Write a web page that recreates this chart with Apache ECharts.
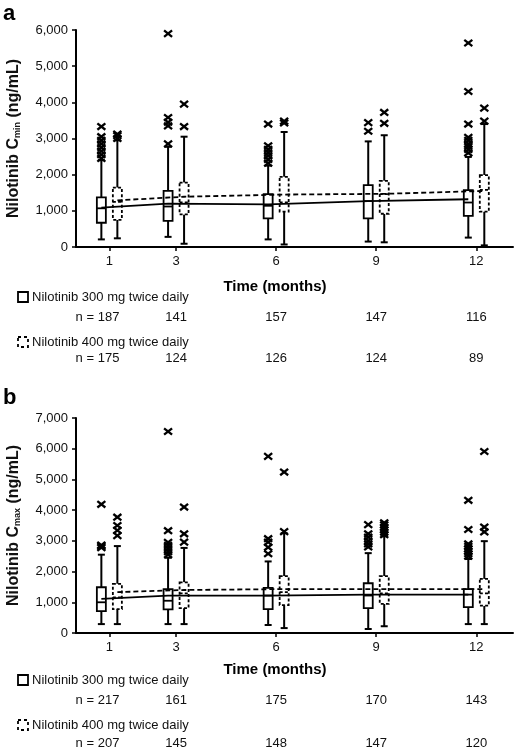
<!DOCTYPE html>
<html><head><meta charset="utf-8">
<script src="https://cdn.jsdelivr.net/npm/echarts@6/dist/echarts.min.js"></script>
<style>html,body{margin:0;padding:0;background:#fff}#c{width:516px;height:750px}</style>
</head><body><div id="c"></div>
<script>
// ---------- data ----------
const months = [1, 3, 6, 9, 12];
const yMaxA = 6000, yMaxB = 7000, yStep = 1000;

// panel a: Cmin  [low whisker, Q1, median, Q3, high whisker]
const a300Box = [[210, 670, 1070, 1370, 2400], [280, 720, 1120, 1550, 2770], [210, 790, 1140, 1460, 2250], [150, 790, 1270, 1710, 2920], [260, 860, 1230, 1570, 2490]];
const a400Box = [[240, 750, 1250, 1640, 2950], [90, 900, 1230, 1780, 3050], [70, 980, 1230, 1940, 3180], [130, 920, 1460, 1830, 3090], [45, 980, 1580, 1990, 3400]];
const a300Out = [[2450, 2550, 2650, 2750, 2850, 2950, 3050, 3330], [2850, 3350, 3450, 3580, 5900], [2320, 2420, 2520, 2610, 2700, 2800, 3400], [3200, 3440], [2600, 2700, 2780, 2850, 2950, 3030, 3400, 4300, 5640]];
const a400Out = [[3000, 3080, 3120], [3330, 3950], [3430, 3480], [3420, 3720], [3480, 3840]];
const a300Mean = [1090, 1200, 1180, 1270, 1320];
const a400Mean = [1290, 1390, 1450, 1470, 1550];
const a300N = [187, 141, 157, 147, 116];
const a400N = [175, 124, 126, 124, 89];

// panel b: Cmax
const b300Box = [[290, 710, 1000, 1490, 2550], [290, 770, 1050, 1430, 2450], [260, 780, 1220, 1470, 2330], [130, 810, 1220, 1620, 2600], [290, 840, 1250, 1430, 2410]];
const b400Box = [[290, 780, 1160, 1600, 2830], [290, 810, 1290, 1650, 2770], [160, 910, 1330, 1850, 3250], [220, 950, 1290, 1850, 3150], [290, 890, 1290, 1760, 2990]];
const b300Out = [[2780, 2820, 2860, 4190], [2550, 2650, 2750, 2850, 2950, 3330, 6560], [2580, 2790, 2960, 3070, 5750], [2800, 2900, 3000, 3120, 3230, 3530], [2500, 2580, 2660, 2740, 2820, 2900, 3370, 4320]];
const b400Out = [[3170, 3340, 3500, 3770], [2960, 3230, 4100], [3300, 5240], [3200, 3280, 3360, 3440, 3520, 3590], [3290, 3450, 5910]];
const b300Mean = [1110, 1220, 1220, 1250, 1250];
const b400Mean = [1330, 1400, 1430, 1430, 1430];
const b300N = [217, 161, 175, 170, 143];
const b400N = [207, 145, 148, 147, 120];

const legend300 = 'Nilotinib 300 mg twice daily';
const legend400 = 'Nilotinib 400 mg twice daily';
const xTitle = 'Time (months)';

// ---------- chart ----------
const FONT = '"Liberation Sans", Arial, Helvetica, sans-serif';
const OFF = 8; // px offset of each group's box from the tick
const OFFM = 0.24; // same offset in months for mean lines
const chart = echarts.init(document.getElementById('c'), null, {renderer: 'canvas'});

function boxRender(offPx, dashed) {
  return function (params, api) {
    const x = api.value(0);
    const pL = api.coord([x, api.value(1)]);
    const p1 = api.coord([x, api.value(2)]);
    const pM = api.coord([x, api.value(3)]);
    const p3 = api.coord([x, api.value(4)]);
    const pH = api.coord([x, api.value(5)]);
    const cx = pL[0] + offPx;
    const hw = 4.5, cw = 3.5;
    const solid = {stroke: '#000', lineWidth: 2, fill: null};
    const bs = {stroke: '#000', lineWidth: 1.8, fill: '#fff'};
    if (dashed) bs.lineDash = [3, 2.2];
    const ms = Object.assign({}, bs, {fill: null});
    return {type: 'group', children: [
      {type: 'line', shape: {x1: cx, y1: pL[1], x2: cx, y2: p1[1]}, style: solid},
      {type: 'line', shape: {x1: cx, y1: p3[1], x2: cx, y2: pH[1]}, style: solid},
      {type: 'line', shape: {x1: cx - cw, y1: pL[1], x2: cx + cw, y2: pL[1]}, style: solid},
      {type: 'line', shape: {x1: cx - cw, y1: pH[1], x2: cx + cw, y2: pH[1]}, style: solid},
      {type: 'rect', shape: {x: cx - hw, y: p3[1], width: 2 * hw, height: p1[1] - p3[1]}, style: bs},
      {type: 'line', shape: {x1: cx - hw, y1: pM[1], x2: cx + hw, y2: pM[1]}, style: ms}
    ]};
  };
}
function outRender(offPx) {
  return function (params, api) {
    const p = api.coord([api.value(0), api.value(1)]);
    const cx = p[0] + offPx, cy = p[1], s = 4;
    const st = {stroke: '#000', lineWidth: 2.3, fill: null};
    return {type: 'group', children: [
      {type: 'line', shape: {x1: cx - s, y1: cy - s * 0.8, x2: cx + s, y2: cy + s * 0.8}, style: st},
      {type: 'line', shape: {x1: cx - s, y1: cy + s * 0.8, x2: cx + s, y2: cy - s * 0.8}, style: st}
    ]};
  };
}
const boxData = arr => months.map((m, i) => [m].concat(arr[i]));
const outData = arr => { const r = []; months.forEach((m, i) => arr[i].forEach(v => r.push([m, v]))); return r; };
const meanData = (arr, off) => months.map((m, i) => [m + off, arr[i]]);

function xAxisDef(gi) {
  return {
    type: 'value', gridIndex: gi, min: 0, max: 13.1,
    axisLine: {show: true, lineStyle: {color: '#000', width: 2}},
    axisTick: {show: true, customValues: months, length: 4, lineStyle: {color: '#000', width: 1.5}},
    axisLabel: {customValues: months, color: '#111', fontSize: 13, fontFamily: FONT, margin: 8},
    splitLine: {show: false}
  };
}
function yAxisDef(gi, max, sub, gap) {
  return {
    type: 'value', gridIndex: gi, min: 0, max: max, interval: yStep,
    axisLine: {show: true, lineStyle: {color: '#000', width: 2}},
    axisTick: {show: true, length: 4, lineStyle: {color: '#000', width: 1.5}},
    axisLabel: {color: '#111', fontSize: 13, fontFamily: FONT, margin: 8,
      formatter: v => v.toLocaleString('en-US')},
    splitLine: {show: false},
    name: '{b|Nilotinib C}{s|' + sub + '}{b| (ng/mL)}',
    nameLocation: 'middle', nameGap: gap,
    nameTextStyle: {rich: {
      b: {fontSize: 16, fontWeight: 'bold', fontFamily: FONT, color: '#111', lineHeight: 16},
      s: {fontSize: 9, fontWeight: 'bold', fontFamily: FONT, color: '#111', lineHeight: 9, verticalAlign: 'bottom'}
    }}
  };
}
function seriesFor(gi, b300, b400, o300, o400, m300, m400) {
  return [
    {type: 'custom', xAxisIndex: gi, yAxisIndex: gi, renderItem: boxRender(-OFF, false), data: boxData(b300), encode: {x: 0, y: [1, 2, 3, 4, 5]}, z: 2, silent: true},
    {type: 'custom', xAxisIndex: gi, yAxisIndex: gi, renderItem: boxRender(OFF, true), data: boxData(b400), encode: {x: 0, y: [1, 2, 3, 4, 5]}, z: 2, silent: true},
    {type: 'custom', xAxisIndex: gi, yAxisIndex: gi, renderItem: outRender(-OFF), data: outData(o300), encode: {x: 0, y: 1}, z: 3, silent: true},
    {type: 'custom', xAxisIndex: gi, yAxisIndex: gi, renderItem: outRender(OFF), data: outData(o400), encode: {x: 0, y: 1}, z: 3, silent: true},
    {type: 'line', xAxisIndex: gi, yAxisIndex: gi, data: meanData(m300, -OFFM), symbol: 'none', lineStyle: {color: '#000', width: 1.8}, z: 4, silent: true},
    {type: 'line', xAxisIndex: gi, yAxisIndex: gi, data: meanData(m400, OFFM), symbol: 'none', lineStyle: {color: '#000', width: 1.8, type: [5, 3]}, z: 4, silent: true}
  ];
}

chart.setOption({
  animation: false,
  backgroundColor: '#fff',
  grid: [
    {left: 76, top: 30, width: 437, height: 217, outerBoundsMode: 'none', containLabel: false},
    {left: 76, top: 418, width: 437, height: 215, outerBoundsMode: 'none', containLabel: false}
  ],
  xAxis: [xAxisDef(0), xAxisDef(1)],
  yAxis: [yAxisDef(0, yMaxA, 'min', 54), yAxisDef(1, yMaxB, 'max', 54)],
  series: seriesFor(0, a300Box, a400Box, a300Out, a400Out, a300Mean, a400Mean)
    .concat(seriesFor(1, b300Box, b400Box, b300Out, b400Out, b300Mean, b400Mean))
});

// ---------- text blocks under each panel ----------
const g = [];
function txt(x, y, s, opt) {
  g.push(Object.assign({type: 'text', x: x, y: y, style: Object.assign({text: s, fill: '#111', font: '13px ' + FONT, textAlign: 'left', textVerticalAlign: 'middle'}, opt || {})}));
}
function legendIcon(x, y, dashed) {
  const style = {stroke: '#000', lineWidth: 1.8, fill: 'none'};
  if (dashed) style.lineDash = [3, 3];
  g.push({type: 'rect', shape: {x: x, y: y - 5, width: 10, height: 10}, style: style});
}
function block(panelLabelY, label, xTitleY, leg1Y, n1Y, leg2Y, n2Y, n300, n400) {
  txt(3, panelLabelY, label, {font: 'bold 22px ' + FONT, fill: '#000'});
  txt(275, xTitleY, xTitle, {font: 'bold 15px ' + FONT, textAlign: 'center', fill: '#000'});
  legendIcon(18, leg1Y, false);
  txt(32, leg1Y, legend300);
  legendIcon(18, leg2Y, true);
  txt(32, leg2Y, legend400);
  months.forEach((m, i) => {
    const px = chart.convertToPixel({xAxisIndex: 0}, m);
    if (i === 0) {
      txt(px + 10, n1Y, 'n = ' + n300[i], {textAlign: 'right'});
      txt(px + 10, n2Y, 'n = ' + n400[i], {textAlign: 'right'});
    } else {
      txt(px, n1Y, String(n300[i]), {textAlign: 'center'});
      txt(px, n2Y, String(n400[i]), {textAlign: 'center'});
    }
  });
}
block(14, 'a', 287, 297, 317, 342, 358, a300N, a400N);
block(398, 'b', 670, 680, 700, 725, 743, b300N, b400N);
chart.setOption({graphic: g});
</script></body></html>
